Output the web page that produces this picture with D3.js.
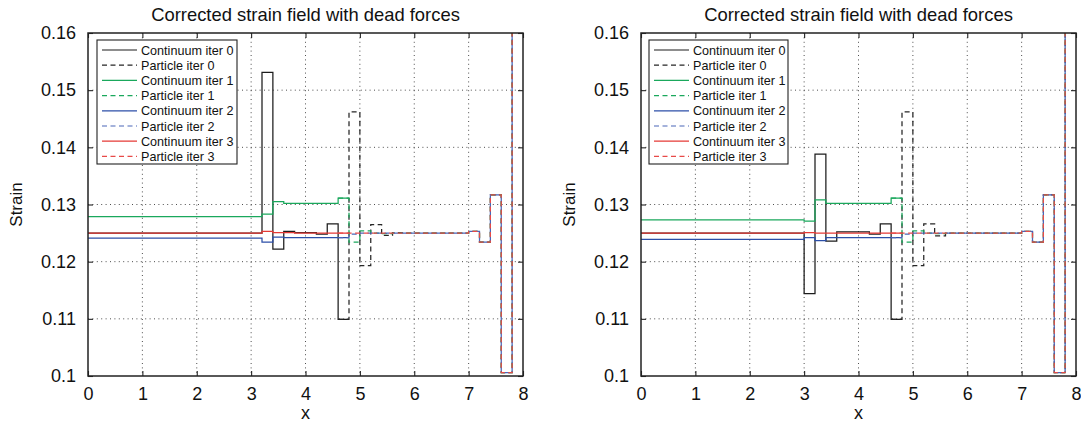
<!DOCTYPE html>
<html>
<head>
<meta charset="utf-8">
<script src="https://cdn.jsdelivr.net/npm/d3@7"></script>
<style>
  html, body { margin: 0; padding: 0; background: #fff; }
  svg { display: block; font-family: "Liberation Sans", Arial, Helvetica, sans-serif; }
</style>
</head>
<body>
<svg id="fig" width="1081" height="428"></svg>
<script>
// Cell edges of the continuum region and of the particle region (0.2 spacing)
const contEdges = [0, 3.0, 3.2, 3.4, 3.6, 3.8, 4.0, 4.2, 4.4, 4.6, 4.8];
const partEdges = [4.6, 4.8, 5.0, 5.2, 5.4, 5.6, 5.8, 6.0, 6.2, 6.4, 6.6, 6.8, 7.0, 7.2, 7.4, 7.6, 7.8, 8.0];

// Left panel: cell strains per iteration
const contIter0A = [0.1250, 0.1250, 0.1531, 0.1222, 0.1253, 0.1251, 0.1251, 0.1248, 0.1266, 0.1099];
const contIter1A = [0.1279, 0.1279, 0.1283, 0.1305, 0.1302, 0.1302, 0.1302, 0.1302, 0.1302, 0.1311];
const contIter2A = [0.1241, 0.1241, 0.1234, 0.1243, 0.1242, 0.1242, 0.1242, 0.1242, 0.1242, 0.1242];
const contIter3A = [0.1250, 0.1250, 0.1253, 0.1251, 0.1251, 0.1250, 0.1250, 0.1250, 0.1250, 0.1250];
const partIter0A = [0.1099, 0.1462, 0.1193, 0.1265, 0.1246, 0.1251, 0.1250, 0.1250, 0.1250, 0.1250, 0.1250, 0.1250, 0.1253, 0.1234, 0.1317, 0.1006, 0.1750];
const partIter1A = [0.1311, 0.1234, 0.1254, 0.1250, 0.1249, 0.1250, 0.1250, 0.1250, 0.1250, 0.1250, 0.1250, 0.1250, 0.1253, 0.1234, 0.1317, 0.1006, 0.1750];
const partIter2A = [0.1242, 0.1248, 0.1250, 0.1250, 0.1250, 0.1250, 0.1250, 0.1250, 0.1250, 0.1250, 0.1250, 0.1250, 0.1253, 0.1234, 0.1317, 0.1006, 0.1750];
const partIter3A = [0.1250, 0.1250, 0.1250, 0.1250, 0.1250, 0.1250, 0.1250, 0.1250, 0.1250, 0.1250, 0.1250, 0.1250, 0.1253, 0.1234, 0.1317, 0.1006, 0.1750];

// Right panel: cell strains per iteration
const contIter0B = [0.1250, 0.1144, 0.1388, 0.1236, 0.1252, 0.1252, 0.1252, 0.1248, 0.1266, 0.1099];
const contIter1B = [0.1273, 0.1271, 0.1308, 0.1302, 0.1302, 0.1302, 0.1302, 0.1302, 0.1302, 0.1311];
const contIter2B = [0.1239, 0.1242, 0.1237, 0.1242, 0.1242, 0.1242, 0.1242, 0.1242, 0.1242, 0.1242];
const contIter3B = [0.1250, 0.1251, 0.1250, 0.1250, 0.1250, 0.1250, 0.1250, 0.1250, 0.1250, 0.1250];
const partIter0B = [0.1099, 0.1462, 0.1193, 0.1266, 0.1245, 0.1250, 0.1250, 0.1250, 0.1250, 0.1250, 0.1250, 0.1250, 0.1253, 0.1234, 0.1317, 0.1006, 0.1750];
const partIter1B = [0.1311, 0.1234, 0.1254, 0.1250, 0.1249, 0.1250, 0.1250, 0.1250, 0.1250, 0.1250, 0.1250, 0.1250, 0.1253, 0.1234, 0.1317, 0.1006, 0.1750];
const partIter2B = [0.1242, 0.1248, 0.1250, 0.1250, 0.1250, 0.1250, 0.1250, 0.1250, 0.1250, 0.1250, 0.1250, 0.1250, 0.1253, 0.1234, 0.1317, 0.1006, 0.1750];
const partIter3B = [0.1250, 0.1250, 0.1250, 0.1250, 0.1250, 0.1250, 0.1250, 0.1250, 0.1250, 0.1250, 0.1250, 0.1250, 0.1253, 0.1234, 0.1317, 0.1006, 0.1750];

const seriesNames = ["Continuum iter 0", "Particle iter 0", "Continuum iter 1", "Particle iter 1",
                     "Continuum iter 2", "Particle iter 2", "Continuum iter 3", "Particle iter 3"];
const xTicks = [0, 1, 2, 3, 4, 5, 6, 7, 8];
const yTicks = [0.10, 0.11, 0.12, 0.13, 0.14, 0.15, 0.16];
const yTickLabels = ["0.1", "0.11", "0.12", "0.13", "0.14", "0.15", "0.16"];
const titleText = "Corrected strain field with dead forces";
const xLabel = "x";
const yLabel = "Strain";

// Per-series styling (colour, dashed or solid), in plotting order
const seriesColor = ["#1c1c1c", "#262626", "#1aa85c", "#1aa85c", "#2c4fa8", "#4a66b8", "#e53a36", "#e84a48"];
const seriesDashed = [false, true, false, true, false, true, false, true];

const panels = [
  { left: 88,  cont: [contIter0A, contIter1A, contIter2A, contIter3A], part: [partIter0A, partIter1A, partIter2A, partIter3A] },
  { left: 641, cont: [contIter0B, contIter1B, contIter2B, contIter3B], part: [partIter0B, partIter1B, partIter2B, partIter3B] }
];

const W = 435, H = 343, TOP = 33;
const svg = d3.select("#fig");
const dash = "5,3.5";

// Stair points: each cell is drawn as a flat segment between its edges
function stairs(edges, vals) {
  const pts = [];
  vals.forEach((v, i) => { pts.push([edges[i], v]); pts.push([edges[i + 1], v]); });
  return pts;
}

panels.forEach((p, pi) => {
  const x = d3.scaleLinear().domain([0, 8]).range([0, W]);
  const y = d3.scaleLinear().domain([0.10, 0.16]).range([H, 0]);
  const g = svg.append("g").attr("transform", `translate(${p.left},${TOP})`);

  g.append("rect").attr("width", W).attr("height", H).attr("fill", "#fff");

  // dotted grid
  const grid = g.append("g").attr("stroke", "#3a3a3a").attr("stroke-width", 0.9)
    .attr("stroke-dasharray", "1,3.4").attr("fill", "none");
  xTicks.slice(1, -1).forEach(t => grid.append("line")
    .attr("x1", x(t)).attr("x2", x(t)).attr("y1", 0).attr("y2", H));
  yTicks.slice(1, -1).forEach(t => grid.append("line")
    .attr("x1", 0).attr("x2", W).attr("y1", y(t)).attr("y2", y(t)));

  // data lines
  const clipId = "clip" + pi;
  g.append("clipPath").attr("id", clipId).append("rect").attr("width", W).attr("height", H);
  const lines = g.append("g").attr("clip-path", `url(#${clipId})`);
  const line = d3.line().x(d => x(d[0])).y(d => y(d[1]));
  for (let k = 0; k < 4; k++) {
    const pairs = [[contEdges, p.cont[k]], [partEdges, p.part[k]]];
    pairs.forEach((pr, j) => {
      const si = k * 2 + j;
      lines.append("path").datum(stairs(pr[0], pr[1]))
        .attr("d", line).attr("fill", "none")
        .attr("stroke", seriesColor[si]).attr("stroke-width", 1.25)
        .attr("stroke-dasharray", seriesDashed[si] ? dash : null);
    });
  }

  // axes with inward ticks on all four sides
  const axB = d3.axisBottom(x).tickValues(xTicks).tickSizeInner(-5).tickSizeOuter(0).tickPadding(11).tickFormat(d3.format("d"));
  const axT = d3.axisTop(x).tickValues(xTicks).tickSizeInner(-5).tickSizeOuter(0).tickFormat("");
  const axL = d3.axisLeft(y).tickValues(yTicks).tickSizeInner(-5).tickSizeOuter(0).tickPadding(12)
    .tickFormat((d, i) => yTickLabels[i]);
  const axR = d3.axisRight(y).tickValues(yTicks).tickSizeInner(-5).tickSizeOuter(0).tickFormat("");
  const styleAxis = sel => {
    sel.select(".domain").remove();
    sel.selectAll("line").attr("stroke", "#222").attr("stroke-width", 1.1);
    sel.selectAll("text").attr("fill", "#111").style("font-size", "18px")
      .style("font-family", "\"Liberation Sans\", Arial, sans-serif");
  };
  g.append("g").attr("transform", `translate(0,${H})`).call(axB).call(styleAxis);
  g.append("g").call(axT).call(styleAxis);
  g.append("g").call(axL).call(styleAxis);
  g.append("g").attr("transform", `translate(${W},0)`).call(axR).call(styleAxis);

  g.append("rect").attr("width", W).attr("height", H).attr("fill", "none")
    .attr("stroke", "#222").attr("stroke-width", 1.5);

  // legend
  const lg = g.append("g").attr("transform", `translate(${pi === 0 ? 9 : 8},7)`);
  const lw = pi === 0 ? 140 : 139;
  lg.append("rect").attr("width", lw).attr("height", 124).attr("fill", "#fff")
    .attr("stroke", "#222").attr("stroke-width", 1.1);
  seriesNames.forEach((name, i) => {
    const yy = 10 + i * 15.2;
    lg.append("line").attr("x1", 5).attr("x2", 40).attr("y1", yy).attr("y2", yy)
      .attr("stroke", seriesColor[i]).attr("stroke-width", 1.2)
      .attr("stroke-dasharray", seriesDashed[i] ? dash : null);
    lg.append("text").attr("x", 44).attr("y", yy).attr("dy", "0.36em")
      .attr("fill", "#111").style("font-size", "12.6px").text(name);
  });

  // titles and labels
  g.append("text").attr("x", W / 2).attr("y", -12).attr("text-anchor", "middle")
    .attr("fill", "#111").style("font-size", "18.4px").text(titleText);
  g.append("text").attr("x", W / 2).attr("y", H + 43).attr("text-anchor", "middle")
    .attr("fill", "#111").style("font-size", "18px").text(xLabel);
  g.append("text").attr("transform", `translate(-66,${H / 2}) rotate(-90)`).attr("text-anchor", "middle")
    .attr("fill", "#111").style("font-size", "17px").text(yLabel);
});
</script>
</body>
</html>
